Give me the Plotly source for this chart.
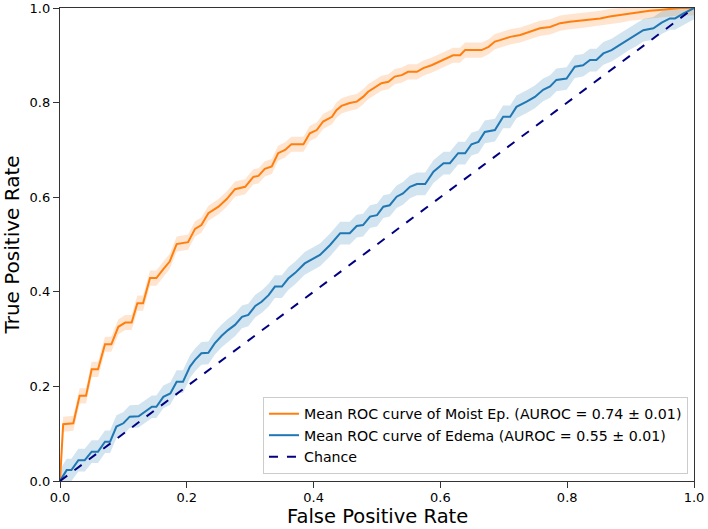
import plotly.graph_objects as go

moist_fpr = [0, 0.005, 0.021, 0.031, 0.041, 0.05, 0.06, 0.071, 0.081, 0.092, 0.103, 0.113, 0.122, 0.131, 0.142, 0.152, 0.163, 0.173, 0.184, 0.202, 0.213, 0.223, 0.234, 0.25, 0.263, 0.276, 0.292, 0.305, 0.313, 0.323, 0.334, 0.344, 0.355, 0.365, 0.384, 0.394, 0.405, 0.415, 0.429, 0.436, 0.444, 0.457, 0.468, 0.478, 0.486, 0.497, 0.507, 0.518, 0.528, 0.539, 0.549, 0.563, 0.573, 0.586, 0.597, 0.61, 0.62, 0.631, 0.639, 0.652, 0.665, 0.676, 0.686, 0.694, 0.71, 0.726, 0.741, 0.757, 0.773, 0.789, 0.804, 0.82, 0.836, 0.852, 0.867, 0.883, 0.899, 0.915, 0.93, 0.946, 0.962, 0.978, 1.0]
moist_tpr = [0, 0.12, 0.122, 0.18, 0.18, 0.236, 0.236, 0.289, 0.289, 0.326, 0.335, 0.335, 0.376, 0.376, 0.429, 0.429, 0.448, 0.464, 0.501, 0.505, 0.533, 0.541, 0.566, 0.58, 0.596, 0.617, 0.622, 0.643, 0.645, 0.660, 0.665, 0.693, 0.70, 0.712, 0.712, 0.735, 0.742, 0.76, 0.77, 0.784, 0.793, 0.799, 0.802, 0.812, 0.823, 0.832, 0.841, 0.844, 0.855, 0.858, 0.865, 0.865, 0.873, 0.879, 0.886, 0.894, 0.90, 0.90, 0.911, 0.911, 0.911, 0.918, 0.929, 0.932, 0.939, 0.943, 0.95, 0.957, 0.96, 0.968, 0.971, 0.973, 0.976, 0.978, 0.982, 0.985, 0.989, 0.992, 0.994, 0.996, 0.998, 1.0, 1.0]
moist_std = 0.016

edema_fpr = [0, 0.0105, 0.018, 0.029, 0.039, 0.05, 0.06, 0.071, 0.079, 0.089, 0.1, 0.11, 0.124, 0.134, 0.145, 0.152, 0.163, 0.174, 0.184, 0.194, 0.205, 0.213, 0.223, 0.234, 0.244, 0.255, 0.265, 0.276, 0.287, 0.297, 0.308, 0.318, 0.329, 0.339, 0.35, 0.36, 0.371, 0.386, 0.41, 0.426, 0.442, 0.457, 0.468, 0.478, 0.489, 0.5, 0.51, 0.52, 0.531, 0.541, 0.552, 0.563, 0.576, 0.589, 0.605, 0.615, 0.628, 0.639, 0.649, 0.66, 0.67, 0.686, 0.699, 0.71, 0.72, 0.736, 0.749, 0.762, 0.773, 0.783, 0.799, 0.812, 0.825, 0.836, 0.846, 0.857, 0.87, 0.883, 0.899, 0.909, 0.92, 0.936, 0.949, 0.962, 0.97, 0.983, 1.0]
edema_tpr = [0, 0.023, 0.023, 0.044, 0.044, 0.062, 0.062, 0.083, 0.083, 0.115, 0.122, 0.136, 0.137, 0.147, 0.157, 0.157, 0.178, 0.185, 0.21, 0.21, 0.242, 0.256, 0.27, 0.271, 0.291, 0.307, 0.319, 0.33, 0.347, 0.351, 0.37, 0.379, 0.393, 0.411, 0.411, 0.428, 0.44, 0.46, 0.478, 0.499, 0.524, 0.524, 0.539, 0.541, 0.559, 0.562, 0.58, 0.583, 0.601, 0.608, 0.622, 0.628, 0.628, 0.654, 0.672, 0.672, 0.693, 0.693, 0.712, 0.717, 0.738, 0.742, 0.77, 0.77, 0.791, 0.802, 0.812, 0.827, 0.834, 0.848, 0.851, 0.876, 0.879, 0.89, 0.89, 0.904, 0.911, 0.922, 0.936, 0.943, 0.953, 0.957, 0.969, 0.978, 0.978, 0.988, 1.0]
edema_std = 0.024

chance_x = [0, 1]
chance_y = [0, 1]

labels = [
    "Mean ROC curve of Moist Ep. (AUROC = 0.74 ± 0.01)",
    "Mean ROC curve of Edema (AUROC = 0.55 ± 0.01)",
    "Chance",
]
x_title = "False Positive Rate"
y_title = "True Positive Rate"
tick_vals = [0.0, 0.2, 0.4, 0.6, 0.8, 1.0]
tick_text = ["0.0", "0.2", "0.4", "0.6", "0.8", "1.0"]

ORANGE = "#ff7f0e"
BLUE = "#1f77b4"

fig = go.Figure()


def add_band(x, y, std, color_rgba):
    upper = [min(v + std, 1.0) for v in y]
    lower = [max(v - std, 0.0) for v in y]
    fig.add_trace(go.Scatter(x=x + x[::-1], y=upper + lower[::-1], fill="toself",
                             fillcolor=color_rgba, line=dict(width=0),
                             mode="lines", showlegend=False, hoverinfo="skip"))


add_band(moist_fpr, moist_tpr, moist_std, "rgba(255,127,14,0.2)")
add_band(edema_fpr, edema_tpr, edema_std, "rgba(31,119,180,0.2)")

fig.add_trace(go.Scatter(x=moist_fpr, y=moist_tpr, mode="lines",
                         line=dict(color=ORANGE, width=2), name=labels[0]))
fig.add_trace(go.Scatter(x=edema_fpr, y=edema_tpr, mode="lines",
                         line=dict(color=BLUE, width=2), name=labels[1]))
fig.add_trace(go.Scatter(x=chance_x, y=chance_y, mode="lines",
                         line=dict(color="navy", width=2, dash="dash"), name=labels[2]))

axis_common = dict(range=[0, 1], tickvals=tick_vals, ticktext=tick_text,
                   showgrid=False, zeroline=False, showline=True, mirror=True,
                   linecolor="#333", linewidth=1.3, ticks="outside", ticklen=6,
                   tickcolor="#333", tickwidth=1.2, automargin=False,
                   ticklabeloverflow="allow",
                   tickfont=dict(size=13, color="black"))

fig.update_layout(
    width=708, height=529,
    margin=dict(l=60, r=14, t=8, b=48),
    plot_bgcolor="white", paper_bgcolor="white",
    font=dict(family="DejaVu Sans", color="black"),
    xaxis=dict(ticklabelstandoff=-2, **axis_common),
    yaxis=dict(title=dict(text=y_title, font=dict(size=20), standoff=6), **axis_common),
    legend=dict(x=0.9905, y=0.0148, xanchor="right", yanchor="bottom",
                bgcolor="rgba(255,255,255,0.8)", bordercolor="#cccccc", borderwidth=1,
                font=dict(size=14.2), tracegroupgap=0),
    showlegend=True,
    annotations=[dict(text=x_title, xref="paper", yref="paper", x=0.5, y=0,
                      xanchor="center", yanchor="top", yshift=-23, borderpad=0,
                      showarrow=False, font=dict(size=19.5, color="black"))],
)

fig.write_html("out.html", post_script="document.body.style.margin='0';",
               config={"displayModeBar": False})
